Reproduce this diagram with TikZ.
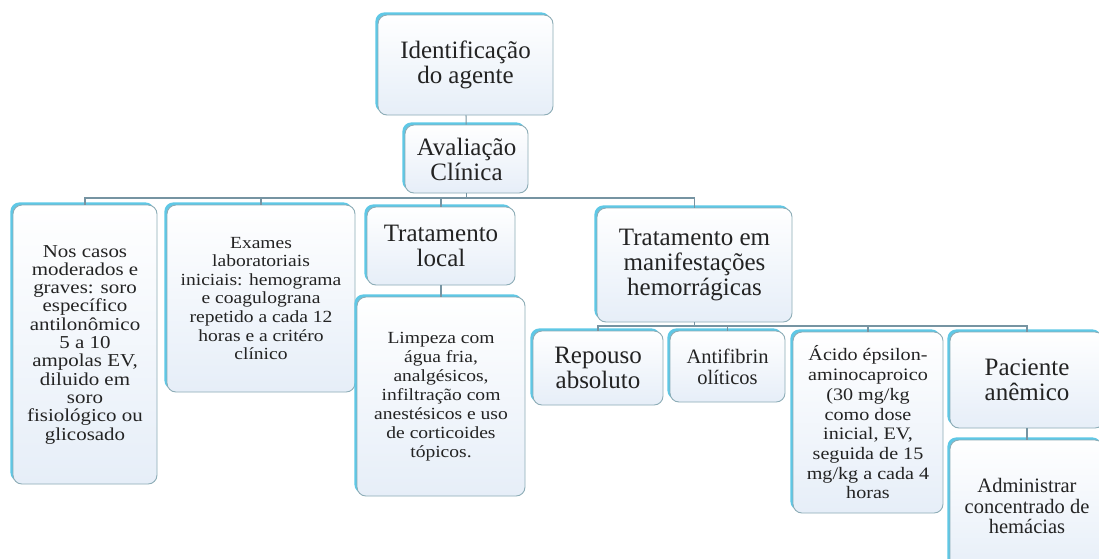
\documentclass[tikz,border=0pt]{standalone}
\usepackage{fontspec}
\setmainfont{Liberation Serif}
\newfontfamily\largo[FakeStretch=1.15]{Liberation Serif}
\usetikzlibrary{shadows}
\definecolor{caixafundo}{RGB}{230,238,248}
\definecolor{caixaborda}{RGB}{140,172,182}
\definecolor{caixabrilho}{RGB}{95,200,230}
\definecolor{linha}{RGB}{118,148,162}
\definecolor{texto}{RGB}{35,35,35}
\tikzset{
  caixa/.style={rounded corners=9pt, draw=caixaborda, line width=0.9pt,
    top color=white, bottom color=caixafundo,
    general shadow={fill=caixabrilho, shadow xshift=-2.6pt, shadow yshift=2.6pt},
    inner sep=0pt, align=center, text=texto},
  fs/.style 2 args={font=\fontsize{#1}{#2}\selectfont},
  fl/.style 2 args={font=\largo\fontsize{#1}{#2}\selectfont},
  grande/.style={fs={25}{25}},
  conn/.style={draw=linha, line width=1.1pt}
}
\begin{document}
\begin{tikzpicture}[x=1pt, y=-1pt]
\path[use as bounding box, clip] (0,0) rectangle (1099,558);
\fill[white] (0,0) rectangle (1099,558);

\node[caixa, grande, minimum width=175pt, minimum height=100pt] (iden) at (465.5,65) {Identificação\\do agente};
\node[caixa, grande, minimum width=123pt, minimum height=68pt] (aval) at (466.5,159) {Avaliação\\Clínica};

\node[caixa, fl={18.2}{18.3}, minimum width=144pt, minimum height=279pt] (casos) at (85,344.5) {Nos casos\\moderados e\\graves: soro\\específico\\antilonômico\\5 a 10\\ampolas EV,\\diluido em\\soro\\fisiológico ou\\glicosado};
\node[caixa, fl={17}{18.6}, minimum width=188pt, minimum height=187pt] (exames) at (261,298.5) {Exames\\laboratoriais\\iniciais: hemograma\\e coagulograna\\repetido a cada 12\\horas e a critéro\\clínico};
\node[caixa, grande, minimum width=148pt, minimum height=78pt] (tlocal) at (441,246) {Tratamento\\local};
\node[caixa, fl={17}{19}, minimum width=168pt, minimum height=199pt] (limpeza) at (441,396.5) {Limpeza com\\água fria,\\analgésicos,\\infiltração com\\anestésicos e uso\\de corticoides\\tópicos.};
\node[caixa, grande, minimum width=195pt, minimum height=114pt] (them) at (694.5,265) {Tratamento em\\manifestações\\hemorrágicas};

\node[caixa, grande, minimum width=130pt, minimum height=74pt] (repouso) at (598,368) {Repouso\\absoluto};
\node[caixa, fs={20.5}{21}, minimum width=115pt, minimum height=71pt] (antif) at (727.5,366.5) {Antifibrin\\olíticos};
\node[caixa, fl={17.5}{19.7}, minimum width=150pt, minimum height=181pt] (acido) at (868,422.5) {Ácido épsilon-\\aminocaproico\\(30 mg/kg\\como dose\\inicial, EV,\\seguida de 15\\mg/kg a cada 4\\horas};
\node[caixa, grande, minimum width=154pt, minimum height=96pt] (pac) at (1027,380) {Paciente\\anêmico};
\node[caixa, fs={20.5}{20.7}, minimum width=154pt, minimum height=132pt] (admin) at (1027,506) {Administrar\\concentrado de\\hemácias};

\coordinate (busA) at (466.5,198);
\coordinate (busB) at (694.5,326);
\draw[conn] (iden) -- (aval);
\draw[conn] (aval) -- (busA);
\foreach \n in {casos,exames,tlocal,them}
  \draw[conn] (busA) -| (\n.north);
\draw[conn] (tlocal) -- (limpeza);
\draw[conn] (them) -- (busB);
\foreach \n in {repouso,antif,acido,pac}
  \draw[conn] (busB) -| (\n.north);
\draw[conn] (pac) -- (admin);
\end{tikzpicture}
\end{document}
